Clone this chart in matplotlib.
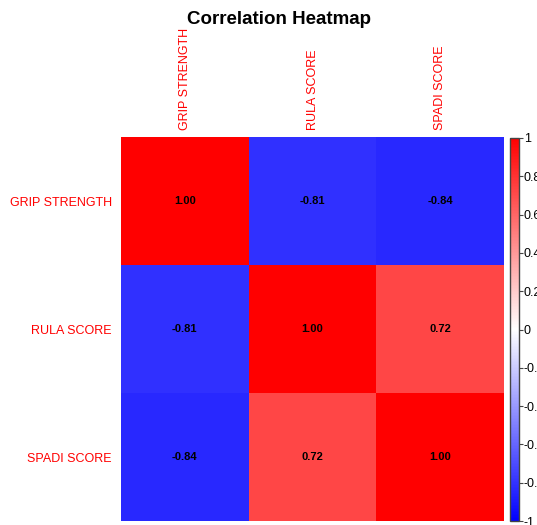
#bibliotecas
import numpy as np
import matplotlib.pyplot as plt
from matplotlib.colors import LinearSegmentedColormap, Normalize
from matplotlib.colorbar import ColorbarBase

plt.rcParams['font.family'] = ['Liberation Sans', 'DejaVu Sans']

# dados
variaveis = ['GRIP STRENGTH', 'RULA SCORE', 'SPADI SCORE']
correlacao = np.array([
    [1.00, -0.81, -0.84],
    [-0.81, 1.00, 0.72],
    [-0.84, 0.72, 1.00],
])
ticks_barra = [-1, -0.8, -0.6, -0.4, -0.2, 0, 0.2, 0.4, 0.6, 0.8, 1]
rotulos_barra = ['-1', '-0.8', '-0.6', '-0.4', '-0.2', '0', '0.2', '0.4', '0.6', '0.8', '1']

# azul - branco - vermelho
cmap = LinearSegmentedColormap.from_list('azul_vermelho', ['#0000FF', '#FFFFFF', '#FF0000'])
norm = Normalize(vmin=-1, vmax=1)

fig = plt.figure(figsize=(5.37, 5.25), dpi=100)
ax = fig.add_axes([121/537, 1 - 521/525, 383/537, 384/525])

n = len(variaveis)
ax.imshow(correlacao, cmap=cmap, norm=norm, aspect='auto',
          extent=(-0.5, n - 0.5, n - 0.5, -0.5))
for i in range(n):
    for j in range(n):
        ax.text(j, i, '%.2f' % correlacao[i, j], ha='center', va='center',
                fontsize=8, fontweight='bold', color='black')

ax.set_xticks(range(n))
ax.set_yticks(range(n))
ax.set_xticklabels(variaveis, rotation=90, color='red', fontsize=9)
ax.set_yticklabels(variaveis, color='red', fontsize=9)
ax.xaxis.tick_top()
ax.tick_params(axis='x', length=0, pad=5)
ax.tick_params(axis='y', length=0, pad=6.5)
for s in ax.spines.values():
    s.set_visible(False)

# titulo
fig.text(279/537, 1 - 20/525, 'Correlation Heatmap', ha='center', va='center',
         fontsize=13.5, fontweight='bold')

# barra de cores
cax = fig.add_axes([510/537, 1 - 521/525, 9/537, 383/525])
cb = ColorbarBase(cax, cmap=cmap, norm=norm, ticks=ticks_barra)
cb.outline.set_edgecolor('#444444')
cb.outline.set_linewidth(1.0)
cax.tick_params(length=3, width=0.8, color='#444444', labelsize=9, pad=0.5)
cax.set_yticklabels(rotulos_barra)

fig.savefig('out.png', dpi=100)
